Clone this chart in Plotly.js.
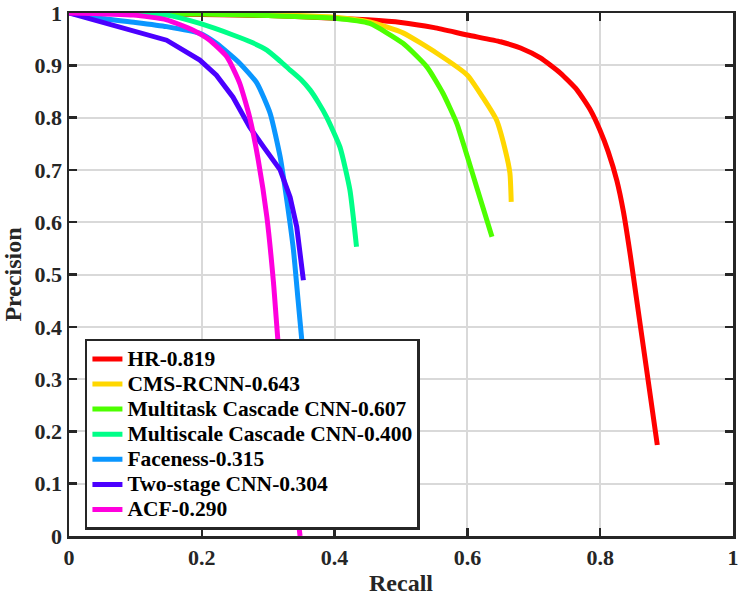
<!DOCTYPE html>
<html>
<head>
<meta charset="utf-8">
<script src="https://cdn.plot.ly/plotly-3.0.1.min.js"></script>
<style>html,body{margin:0;padding:0;background:#fff;}#chart{width:739px;height:600px;}</style>
</head>
<body>
<div id="chart"></div>
<script>
const seriesNames = ["HR-0.819", "CMS-RCNN-0.643", "Multitask Cascade CNN-0.607", "Multiscale Cascade CNN-0.400", "Faceness-0.315", "Two-stage CNN-0.304", "ACF-0.290"];
const seriesColors = ["#FF0000", "#FFD700", "#4DFF00", "#00FF88", "#0A96FF", "#4B00FF", "#FF00DD"];

const hrRecall = [0, 0.1, 0.2, 0.3, 0.4, 0.45, 0.5, 0.55, 0.6, 0.65, 0.68, 0.71, 0.74, 0.765, 0.785, 0.8, 0.812, 0.825, 0.835, 0.845, 0.855, 0.87, 0.886];
const hrPrecision = [1, 0.999, 0.997, 0.995, 0.99, 0.987, 0.982, 0.972, 0.958, 0.945, 0.933, 0.914, 0.885, 0.853, 0.815, 0.775, 0.735, 0.68, 0.62, 0.54, 0.451, 0.317, 0.174];

const cmsRecall = [0, 0.1, 0.2, 0.3, 0.4, 0.453, 0.503, 0.554, 0.6, 0.623, 0.644, 0.657, 0.664, 0.666];
const cmsPrecision = [1, 1, 0.999, 0.997, 0.992, 0.983, 0.962, 0.923, 0.881, 0.839, 0.795, 0.738, 0.694, 0.639];

const mtRecall = [0, 0.1, 0.2, 0.3, 0.4, 0.453, 0.503, 0.539, 0.563, 0.584, 0.6, 0.614, 0.637];
const mtPrecision = [1, 0.999, 0.998, 0.995, 0.99, 0.98, 0.942, 0.897, 0.847, 0.789, 0.725, 0.667, 0.572];

const msRecall = [0, 0.1, 0.147, 0.197, 0.247, 0.275, 0.298, 0.318, 0.333, 0.35, 0.363, 0.376, 0.388, 0.408, 0.423, 0.433];
const msPrecision = [1, 0.999, 0.996, 0.98, 0.958, 0.944, 0.929, 0.908, 0.891, 0.872, 0.853, 0.828, 0.801, 0.744, 0.662, 0.553];

const fnRecall = [0, 0.047, 0.1, 0.147, 0.197, 0.222, 0.257, 0.283, 0.303, 0.318, 0.328, 0.338, 0.345, 0.351, 0.356];
const fnPrecision = [1, 0.99, 0.982, 0.974, 0.961, 0.942, 0.904, 0.866, 0.808, 0.725, 0.642, 0.547, 0.451, 0.369, 0.3];

const tsRecall = [0, 0.147, 0.197, 0.222, 0.247, 0.272, 0.293, 0.318, 0.333, 0.343, 0.353];
const tsPrecision = [1, 0.948, 0.910, 0.881, 0.839, 0.782, 0.744, 0.70, 0.648, 0.591, 0.489];

const acfRecall = [0, 0.097, 0.147, 0.187, 0.212, 0.238, 0.257, 0.272, 0.285, 0.298, 0.308, 0.315, 0.33, 0.348];
const acfPrecision = [1, 0.996, 0.987, 0.967, 0.948, 0.916, 0.866, 0.801, 0.719, 0.61, 0.484, 0.369, 0.2, 0.0];

const xs = [hrRecall, cmsRecall, mtRecall, msRecall, fnRecall, tsRecall, acfRecall];
const ys = [hrPrecision, cmsPrecision, mtPrecision, msPrecision, fnPrecision, tsPrecision, acfPrecision];
const shapes = ["spline", "spline", "spline", "spline", "spline", "linear", "spline"];

const traces = seriesNames.map((n, i) => ({
  type: "scatter", mode: "lines",
  name: '<span style="font-size:21.5px"><b>' + n + '</b></span>',
  x: xs[i], y: ys[i],
  line: {color: seriesColors[i], width: 5, shape: shapes[i], smoothing: 0.5}
}));

const FAM = "Liberation Serif";
const axisCommon = {
  range: [0, 1], showline: true, linecolor: "#262626", linewidth: 2.5, mirror: "ticks",
  ticks: "inside", ticklen: 8, tickwidth: 2.5, tickcolor: "#262626",
  showgrid: true, gridcolor: "#d9d9d9", gridwidth: 2, zeroline: false,
  tickfont: {family: FAM, size: 22, color: "#262626", weight: 700}
};

const layout = {
  width: 739, height: 600,
  margin: {l: 69, r: 6, t: 13, b: 64},
  paper_bgcolor: "#fff", plot_bgcolor: "#fff",
  font: {family: FAM, color: "#262626"},
  showlegend: true,
  xaxis: Object.assign({}, axisCommon, {dtick: 0.2, tick0: 0,
    title: {text: "<b>Recall</b>", font: {family: FAM, size: 24, color: "#262626"}, standoff: 6}}),
  yaxis: Object.assign({}, axisCommon, {dtick: 0.1, tick0: 0,
    title: {text: "<b>Precision</b>", font: {family: FAM, size: 24, color: "#262626"}, standoff: 8}}),
  legend: {
    x: 0.024, y: 0.377, xanchor: "left", yanchor: "top",
    bgcolor: "#fff", bordercolor: "#262626", borderwidth: 2.5,
    font: {family: FAM, size: 17, color: "#000"},
    tracegroupgap: 0, itemwidth: 30
  }
};

Plotly.newPlot("chart", traces, layout, {displayModeBar: false, staticPlot: true});
</script>
</body>
</html>
